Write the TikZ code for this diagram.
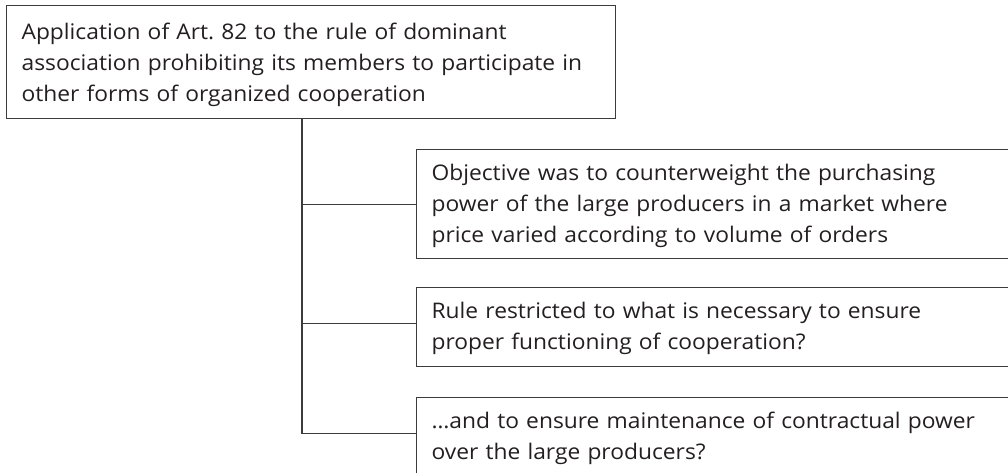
\documentclass[tikz,border=0pt]{standalone}
\usepackage{fontspec}
\setmainfont[FakeStretch=1.06]{Open Sans}
\definecolor{linegray}{HTML}{3C3C3C}
\definecolor{textgray}{HTML}{231F20}
\begin{document}
\frenchspacing
\begin{tikzpicture}[x=1pt,y=-1pt,
  box/.style={draw=linegray, line width=1.2pt, anchor=north west,
    inner xsep=15pt, inner ysep=0pt, text width=#1, align=left,
    font=\fontsize{21.5}{30.8}\selectfont, text=textgray},
  conn/.style={draw=linegray, line width=1.2pt}]
\useasboundingbox (0,0) rectangle (1008,473);
\clip (0,0) rectangle (1008,473);
\node[box=579pt, text height=34pt, text depth=79pt] (top) at (6,5)
  {Application of Art. 82 to the rule of dominant\\association prohibiting its members to participate in\\other forms of organized cooperation};
\node[box=584pt, text height=31pt, text depth=78pt] (b2) at (416,149)
  {Objective was to counterweight the purchasing\\power of the large producers in a market where\\price varied according to volume of orders};
\node[box=584pt, text height=31pt, text depth=48pt] (b3) at (416,287)
  {Rule restricted to what is necessary to ensure\\proper functioning of cooperation?};
\node[box=584pt, text height=31pt, text depth=49pt] (b4) at (416,397)
  {…and to ensure maintenance of contractual power\\over the large producers?};
\coordinate (tx) at (302,0);
\coordinate (b2w) at (b2.west);
\coordinate (b3w) at ([yshift=4pt]b3.west);
\coordinate (b4w) at ([yshift=4pt]b4.west);
\draw[conn] (tx |- top.south) |- (b4w);
\draw[conn] (b2w -| tx) -- (b2w);
\draw[conn] (b3w -| tx) -- (b3w);
\end{tikzpicture}
\end{document}
